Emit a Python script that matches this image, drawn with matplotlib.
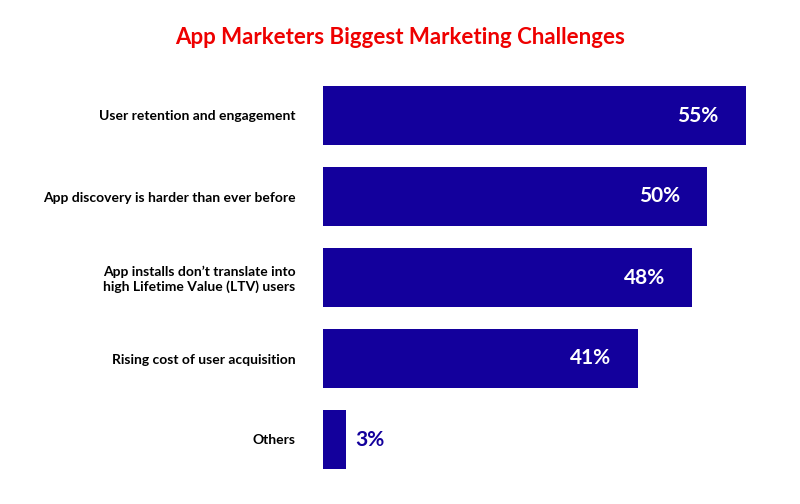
import matplotlib
matplotlib.use("Agg")
import matplotlib.pyplot as plt

categories = ["User retention and engagement",
              "App discovery is harder than ever before",
              "App installs don\u2019t translate into\nhigh Lifetime Value (LTV) users",
              "Rising cost of user acquisition",
              "Others"]
values = [55, 50, 48, 41, 3]
labels = ["55%", "50%", "48%", "41%", "3%"]

color = "#13009C"
fig = plt.figure(figsize=(8, 5.04), dpi=100)
ax = fig.add_axes([323/800, 1-480/504, 461/800, 405/504])
y = list(range(len(categories)))
ax.barh(y, values, height=0.72, color=color)
ax.set_xlim(0, 60)
ax.set_ylim(4.5, -0.5)
for yi, v, lab in zip(y, values, labels):
    if v > 10:
        ax.text(v - 3.5, yi, lab, ha="right", va="center", color="white",
                fontsize=15, fontweight="bold", family="Lato")
    else:
        ax.text(v + 1.2, yi, lab, ha="left", va="center", color=color,
                fontsize=15, fontweight="bold", family="Lato")
ax.set_yticks(y)
ax.set_yticklabels(categories, fontsize=10, fontweight="bold", family="Lato",
                   ha="right")
ax.tick_params(axis="y", length=0, pad=20)
ax.set_xticks([])
for s in ax.spines.values():
    s.set_visible(False)
fig.text(0.5, 1-37/504, "App Marketers Biggest Marketing Challenges", ha="center",
         va="center", color="#EE0000", fontsize=16, fontweight="bold", family="Lato")
fig.savefig("out.png", dpi=100)
